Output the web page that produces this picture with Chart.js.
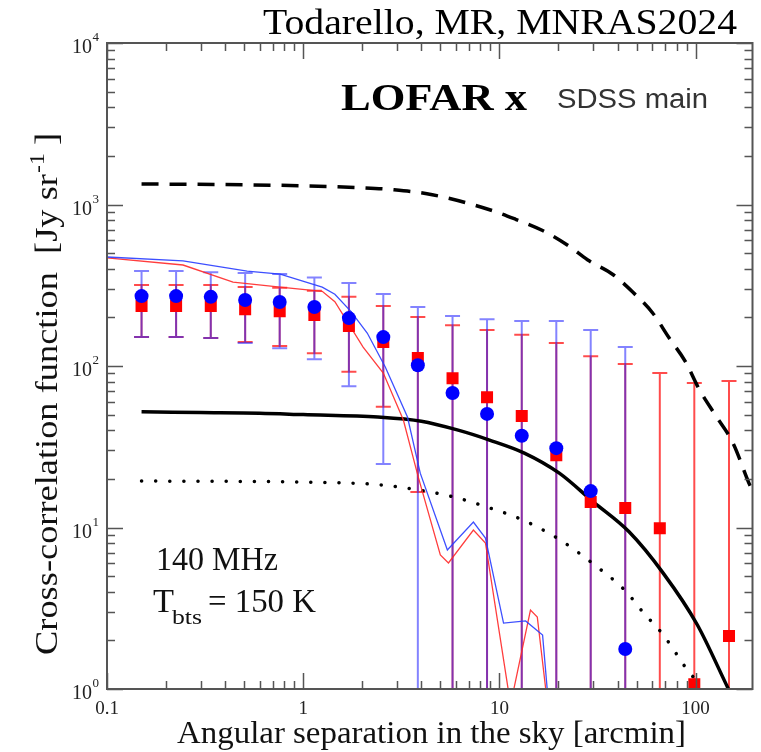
<!DOCTYPE html>
<html>
<head>
<meta charset="utf-8">
<script src="https://cdn.jsdelivr.net/npm/chart.js@4"></script>
<style>
  body { margin: 0; background: #fff; }
  canvas { display: block; }
</style>
</head>
<body>
<canvas id="xcorr" width="761" height="752"></canvas>
<script>
// angular bins [arcmin]
const sepBins = [0.15, 0.225, 0.338, 0.506, 0.759, 1.14, 1.71, 2.56, 3.84, 5.77, 8.65, 13.0, 19.5, 29.2, 43.8, 65.7, 98.5, 148];

// blue circles + errors (null = not shown, 0.1 = bar runs off the bottom)
const blueVals = [271, 271, 268, 256, 249, 232, 198, 151, 101, 68, 50.5, 37, 31, 16.8, 1.77, null, null, null];
const blueHi   = [387, 387, 381, 376, 371, 353, 327, 279, 232, 204, 195, 190, 190, 167, 131, null, null, null];
const blueLo   = [151, 151, 149, 139, 129, 110, 75, 24.7, 0.1, 0.1, 0.1, 0.1, 0.1, 0.1, 0.1, null, null, null];

// red squares + errors
const redVals = [235, 235, 235, 225, 218, 207, 177, 141, 112, 84, 64, 49, 28, 14.4, 13.2, 9.9, 1.07, 2.13];
const redHi   = [317, 317, 317, 308, 305, 292, 268, 235, 201, 179, 167, 156, 139, 115, 103, 90.6, 78.5, 80.7];
const redLo   = [151, 151, 149, 141, 133, 120, 92, 56, 16.6, 0.1, 0.1, 0.1, 0.1, 0.1, 0.1, 0.1, 0.1, 0.1];

// thin simulation lines
const blueLineX = [0.1, 0.244, 0.518, 0.763, 1.25, 1.45, 1.75, 2.12, 2.62, 3.40, 3.95, 5.43, 7.37, 8.49, 10.5, 13.6, 16.6, 17.8];
const blueLineY = [473, 447, 387, 371, 308, 278, 218, 160, 98.6, 48.3, 21.7, 7.26, 10.8, 8.61, 2.56, 2.64, 2.16, 0.8];
const redLineX = [0.1, 0.244, 0.439, 0.763, 1.25, 1.45, 2.02, 2.56, 3.24, 3.86, 5.0, 5.5, 7.37, 8.49, 11.4, 14.4, 15.6, 17.6];
const redLineY = [467, 422, 331, 308, 290, 250, 131, 90.5, 46.3, 20.5, 6.76, 6.03, 9.65, 8.02, 0.8, 3.08, 2.79, 0.8];

// black model curves
const solidX = [0.15, 0.3, 0.6, 1.0, 2.4, 4.0, 6.1, 8.9, 13.4, 20.2, 30.1, 45.8, 68.5, 102, 147, 170];
const solidY = [52, 51.5, 51, 50, 48.3, 45.5, 40.2, 34.8, 28.9, 21.7, 14.4, 9.4, 5.2, 2.5, 1.0, 0.7];
const dashX = [0.15, 0.5, 1.0, 2.0, 2.88, 4.55, 9.0, 12.1, 16.6, 22.5, 28.1, 38.2, 47.8, 60.4, 72.8, 88.9, 103.5, 126, 155, 189, 200];
const dashY = [1340, 1325, 1305, 1270, 1235, 1150, 925, 810, 690, 555, 455, 366, 287, 213, 151, 106, 73, 49.7, 33.4, 18.3, 15.9];
const dotX = [0.15, 1.0, 2.3, 3.6, 5.8, 9.3, 12.8, 20, 29.8, 44, 54.3, 67.9, 81.8, 90, 100];
const dotY = [19.4, 19.1, 18.5, 17.3, 15.5, 13.0, 11.3, 8.5, 6.0, 4.04, 2.96, 2.19, 1.58, 1.33, 1.14];

const xMajor = [0.1, 1, 10, 100];
const xLabels = ['0.1', '1', '10', '100'];
const yMajor = [1, 10, 100, 1000, 10000];
const yExp = ['0', '1', '2', '3', '4'];

function pts(xs, ys) {
  return xs.map((x, i) => ({ x: x, y: ys[i] }));
}

const SERIF = '"Liberation Serif", "Times New Roman", serif';

function fitText(ctx, str, x0, x1, base, font, color) {
  ctx.save();
  ctx.font = font;
  ctx.fillStyle = color;
  ctx.textAlign = 'left';
  ctx.textBaseline = 'alphabetic';
  const w = ctx.measureText(str).width;
  ctx.translate(x0, base);
  ctx.scale((x1 - x0) / w, 1);
  ctx.fillText(str, 0, 0);
  ctx.restore();
}

const framePlugin = {
  id: 'frame',
  beforeDatasetsDraw(chart) {
    const ctx = chart.ctx, a = chart.chartArea;
    const xs = chart.scales.x, ys = chart.scales.y;
    ctx.save();
    ctx.beginPath();
    ctx.rect(a.left, a.top, a.right - a.left, a.bottom - a.top);
    ctx.clip();
    const bars = [
      [redHi, redLo, 'rgba(255,0,0,0.7)'],
      [blueHi, blueLo, 'rgba(30,30,255,0.55)']
    ];
    bars.forEach(([hi, lo, col]) => {
      ctx.strokeStyle = col;
      ctx.lineWidth = 2;
      sepBins.forEach((s, i) => {
        if (hi[i] == null) return;
        const px = xs.getPixelForValue(s);
        const pHi = ys.getPixelForValue(hi[i]);
        const pLo = ys.getPixelForValue(lo[i]);
        ctx.beginPath();
        ctx.moveTo(px, pHi); ctx.lineTo(px, pLo);
        ctx.moveTo(px - 7.5, pHi); ctx.lineTo(px + 7.5, pHi);
        ctx.moveTo(px - 7.5, pLo); ctx.lineTo(px + 7.5, pLo);
        ctx.stroke();
      });
    });
    ctx.restore();
  },
  afterDraw(chart) {
    const ctx = chart.ctx, a = chart.chartArea;
    const xs = chart.scales.x, ys = chart.scales.y;
    ctx.save();
    // ticks on all four sides, pointing inward
    ctx.strokeStyle = '#555';
    ctx.lineWidth = 1.5;
    const tick = (len, isX, v) => {
      ctx.beginPath();
      if (isX) {
        const p = Math.round(xs.getPixelForValue(v)) + 0.5;
        ctx.moveTo(p, a.bottom); ctx.lineTo(p, a.bottom - len);
        ctx.moveTo(p, a.top); ctx.lineTo(p, a.top + len);
      } else {
        const p = Math.round(ys.getPixelForValue(v)) + 0.5;
        ctx.moveTo(a.left, p); ctx.lineTo(a.left + len, p);
        ctx.moveTo(a.right, p); ctx.lineTo(a.right - len, p);
      }
      ctx.stroke();
    };
    xMajor.forEach(d => {
      tick(16, true, d);
      for (let k = 2; k <= 9; k++) if (d * k < xs.max) tick(8, true, d * k);
    });
    yMajor.forEach(d => {
      tick(16, false, d);
      if (d < ys.max) for (let k = 2; k <= 9; k++) tick(8, false, d * k);
    });
    ctx.lineWidth = 2;
    ctx.strokeStyle = '#555';
    ctx.strokeRect(a.left, a.top, a.right - a.left, a.bottom - a.top);

    // tick labels
    ctx.fillStyle = '#222';
    ctx.textBaseline = 'alphabetic';
    ctx.font = '19px ' + SERIF;
    ctx.textAlign = 'center';
    xMajor.forEach((v, i) => {
      ctx.fillText(xLabels[i], xs.getPixelForValue(v), 714);
    });
    yMajor.forEach((v, i) => {
      const p = ys.getPixelForValue(v);
      ctx.font = '20px ' + SERIF;
      ctx.textAlign = 'right';
      ctx.fillText('10', 92, p + 10);
      ctx.font = '13px ' + SERIF;
      ctx.textAlign = 'left';
      ctx.fillText(yExp[i], 92.5, p - 2);
    });

    // header and annotations
    fitText(ctx, 'Todarello, MR, MNRAS2024', 263, 737, 34, '35px ' + SERIF, '#000');
    fitText(ctx, 'LOFAR x', 341, 527, 110, 'bold 38px ' + SERIF, '#000');
    fitText(ctx, 'SDSS main', 557, 708, 108, '27px "Liberation Sans", Arial, sans-serif', '#333');
    fitText(ctx, '140 MHz', 156, 278, 570, '33px ' + SERIF, '#111');
    fitText(ctx, 'T', 153, 174, 612, '33px ' + SERIF, '#111');
    fitText(ctx, 'bts', 172, 202, 624, '22px ' + SERIF, '#111');
    fitText(ctx, '= 150 K', 208, 316, 612, '33px ' + SERIF, '#111');

    // x axis title
    fitText(ctx, 'Angular separation in the sky [arcmin]', 177, 686, 743, '31px ' + SERIF, '#111');

    // y axis title (rotated, with superscript)
    ctx.save();
    ctx.translate(57, 655);
    ctx.rotate(-Math.PI / 2);
    const mainF = '32px ' + SERIF, supF = '21px ' + SERIF;
    const p1 = 'Cross-correlation function  [Jy sr', p2 = '-1', p3 = ' ]';
    ctx.font = mainF; const w1 = ctx.measureText(p1).width, w3 = ctx.measureText(p3).width;
    ctx.font = supF; const w2 = ctx.measureText(p2).width;
    const sc = 522 / (w1 + w2 + w3);
    ctx.scale(sc, 1);
    ctx.fillStyle = '#111';
    ctx.textAlign = 'left';
    ctx.font = mainF; ctx.fillText(p1, 0, 0);
    ctx.font = supF; ctx.fillText(p2, w1 + 1, -13);
    ctx.font = mainF; ctx.fillText(p3, w1 + w2, 0);
    ctx.restore();

    ctx.restore();
  }
};

new Chart(document.getElementById('xcorr'), {
  type: 'scatter',
  data: {
    datasets: [
      { label: 'blue data', data: pts(sepBins, blueVals), pointStyle: 'circle', pointRadius: 7,
        backgroundColor: '#0000ff', borderColor: '#0000ff', borderWidth: 0, order: 0 },
      { label: 'red data', data: pts(sepBins, redVals), pointStyle: 'rect', pointRadius: 8.5,
        backgroundColor: '#ff0000', borderColor: '#ff0000', borderWidth: 0, order: 1 },
      { label: 'blue sim', data: pts(blueLineX, blueLineY), showLine: true, pointRadius: 0,
        borderColor: 'rgba(40,60,255,0.9)', borderWidth: 1.3, order: 2 },
      { label: 'red sim', data: pts(redLineX, redLineY), showLine: true, pointRadius: 0,
        borderColor: 'rgba(255,40,40,0.9)', borderWidth: 1.3, order: 3 },
      { label: 'model', data: pts(solidX, solidY), showLine: true, pointRadius: 0,
        borderColor: '#000', borderWidth: 3.5, cubicInterpolationMode: 'monotone', order: 4 },
      { label: 'model dashed', data: pts(dashX, dashY), showLine: true, pointRadius: 0,
        borderColor: '#000', borderWidth: 3.5, borderDash: [17, 11], cubicInterpolationMode: 'monotone', order: 5 },
      { label: 'model dotted', data: pts(dotX, dotY), showLine: true, pointRadius: 0,
        borderColor: '#000', borderWidth: 3.5, borderDash: [0.1, 14], borderCapStyle: 'round',
        cubicInterpolationMode: 'monotone', order: 6 }
    ]
  },
  options: {
    responsive: false,
    animation: false,
    layout: { padding: { left: 107, top: 43, right: 7, bottom: 63 } },
    plugins: { legend: { display: false }, tooltip: { enabled: false } },
    scales: {
      x: { type: 'logarithmic', min: 0.1, max: 195, display: false },
      y: { type: 'logarithmic', min: 1, max: 10000, display: false }
    }
  },
  plugins: [framePlugin]
});
</script>
</body>
</html>
